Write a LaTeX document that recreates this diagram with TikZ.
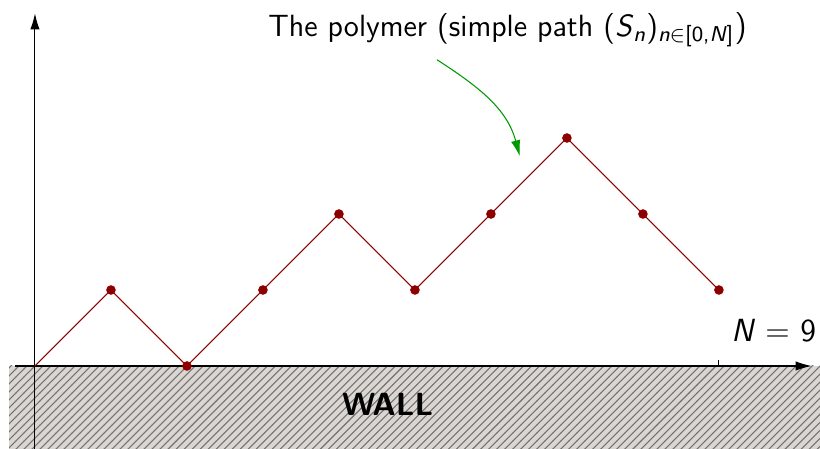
\documentclass[tikz,border=0pt]{standalone}
\usepackage{amsmath}
\usepackage{fontspec}
\usepackage{tikz}
\usetikzlibrary{arrows.meta,patterns}
\renewcommand{\familydefault}{\sfdefault}
\definecolor{polyred}{rgb}{0.55,0,0}
\definecolor{wallgray}{rgb}{0.86,0.84,0.82}
\definecolor{hintgreen}{rgb}{0,0.6,0}

\begin{document}
\begin{tikzpicture}[
    axis/.style={-{Latex[length=6pt,width=3.5pt]}, thin, black},
    monomer/.style={circle, fill=polyred, inner sep=0pt, minimum size=3.6pt},
    chain/.style={polyred, thin},
    hint/.style={-{Latex[length=6pt,width=3.5pt]}, hintgreen, thin}
]
    \useasboundingbox (-0.46,-1.092) rectangle (10.33,4.816);

    % the wall
    \fill[wallgray] (-0.34,-1.1) rectangle (10.33,0);
    \fill[pattern=north east lines, pattern color=black!55] (-0.34,-1.1) rectangle (10.33,0);
    \node (wall) at (4.64,-0.5) {\large\bfseries WALL};

    % axes
    \coordinate (xstart) at (-0.26,0);
    \coordinate (xend) at (10.22,0);
    \coordinate (ybot) at (0,-1.1);
    \coordinate (ytop) at (0,4.64);
    \draw[axis] (xstart) -- (xend);
    \draw[axis] (ybot) -- (ytop);
    \coordinate (tick) at (9,0);
    \draw[thin] (tick) -- ++(0,0.08);
    \node (nlabel) at (9.72,0.47) {\large\textit{N} $=$ 9};

    % the polymer
    \foreach \x/\y [count=\i from 0] in {0/0,1/1,2/0,3/1,4/2,5/1,6/2,7/3,8/2,9/1}
        \coordinate (s\i) at (\x,\y);
    \draw[chain] (s0) -- (s1) -- (s2) -- (s3) -- (s4) -- (s5) -- (s6) -- (s7) -- (s8) -- (s9);
    \foreach \i in {1,...,9}
        \node[monomer] (m\i) at (s\i) {};

    \node[font=\fontsize{11.5}{14}\selectfont] (title) at (6.22,4.42)
        {The polymer (simple path (\textit{S}\textsubscript{\textit{n}})\textsubscript{\textit{n}$\in$[0,\textit{N}]}{\large)}};
    \coordinate (hintstart) at (5.29,4.03);
    \coordinate (hintend) at (6.38,2.76);
    \draw[hint] (hintstart) to[out=-33,in=105] (hintend);
\end{tikzpicture}
\end{document}
